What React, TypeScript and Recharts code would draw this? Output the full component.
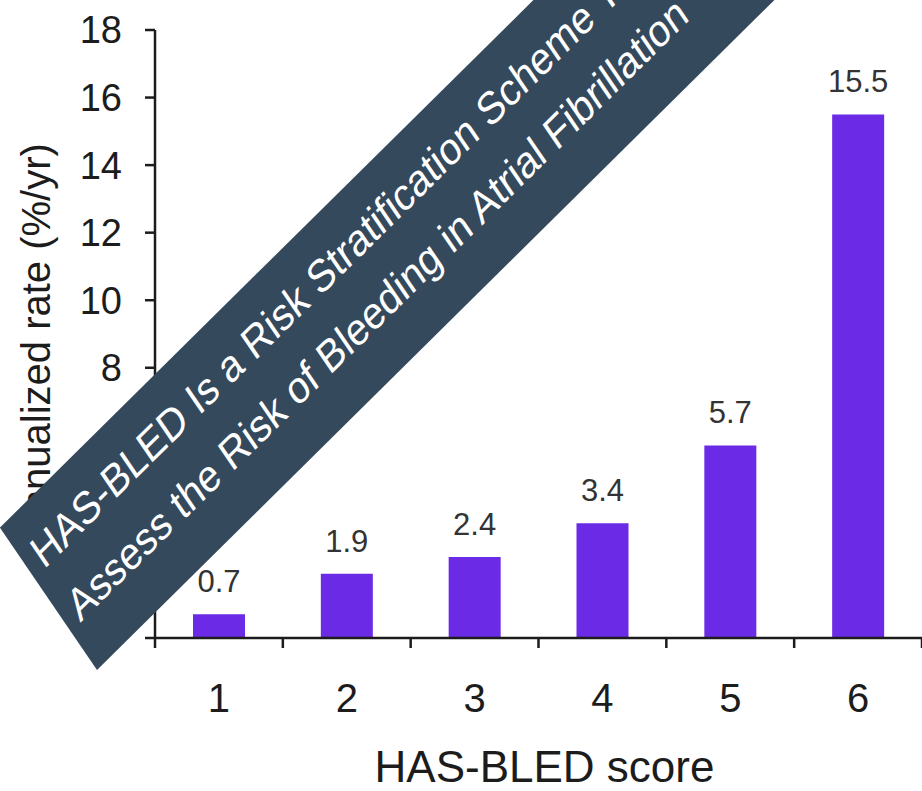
import React from 'react';
import { BarChart, Bar, XAxis, YAxis, LabelList } from 'recharts';

// HAS-BLED score vs annualized major bleeding rate
const scores = ['1', '2', '3', '4', '5', '6'];
const bleedRates = [0.7, 1.9, 2.4, 3.4, 5.7, 15.5];
const rateTicks = [0, 2, 4, 6, 8, 10, 12, 14, 16, 18];

const bannerLines = [
  'HAS-BLED Is a Risk Stratification Scheme That Can',
  'Assess the Risk of Bleeding in Atrial Fibrillation',
];

const data = scores.map((score, i) => ({ score, rate: bleedRates[i] }));

const WIDTH = 922;
const HEIGHT = 791;
const Y_AXIS_W = 155;
const X_AXIS_H = 153;
const TOP = 30;
const FONT = '"Liberation Sans", Arial, Helvetica, sans-serif';
const INK = '#1c1c1c';
const BAR_COLOR = '#6b2be6';
const X_TICK_SIZE = 10;
const X_TICK_MARGIN = 36;

// category labels sit under the bars, tick marks sit on the band edges
function ScoreTick(props: any) {
  const { x, y, payload, index } = props;
  const plotW = WIDTH - Y_AXIS_W;
  const half = payload && typeof payload.offset === 'number' && payload.offset > 0
    ? payload.offset
    : plotW / scores.length / 2;
  const axisY = y - X_TICK_SIZE - X_TICK_MARGIN;
  return (
    <g>
      <line x1={x - half} x2={x - half} y1={axisY} y2={axisY + X_TICK_SIZE} stroke={INK} strokeWidth={2.5} />
      {index === scores.length - 1 && (
        <line x1={x + half} x2={x + half} y1={axisY} y2={axisY + X_TICK_SIZE} stroke={INK} strokeWidth={2.5} />
      )}
      <text x={x} y={y} dy="0.71em" textAnchor="middle" fill={INK} fontSize={40} fontFamily={FONT}>
        {payload.value}
      </text>
    </g>
  );
}

function YTitle(props: any) {
  const vb = props.viewBox || { x: 0, y: TOP, width: Y_AXIS_W, height: HEIGHT - TOP - X_AXIS_H };
  const x = vb.x + 50;
  const y = vb.y + vb.height / 2 + 7;
  return (
    <text x={x} y={y} transform={`rotate(-90, ${x}, ${y})`} textAnchor="middle" fill={INK} fontSize={40} fontFamily={FONT}>
      Annualized rate (%/yr)
    </text>
  );
}

function XTitle(props: any) {
  const vb = props.viewBox || { x: Y_AXIS_W, y: HEIGHT - X_AXIS_H, width: WIDTH - Y_AXIS_W, height: X_AXIS_H };
  return (
    <text x={vb.x + vb.width / 2 + 6} y={vb.y + 144} textAnchor="middle" fill={INK} fontSize={44} fontFamily={FONT}>
      HAS-BLED score
    </text>
  );
}

// slanted title ribbon laid over the lower-left of the chart
function Banner() {
  const w = 1000;
  const h = 153;
  return (
    <svg
      width={w}
      height={h}
      style={{
        position: 'absolute',
        left: 97,
        top: 670 - h,
        transformOrigin: '0 100%',
        transform: 'scaleY(1.204) rotate(-39.4deg)',
        overflow: 'visible',
      }}
    >
      <rect width={w} height={h} fill="#35495d" />
      <text x={12} y={55} fill="#ffffff" fontSize={38} fontFamily={FONT}>{bannerLines[0]}</text>
      <text x={12} y={112} fill="#ffffff" fontSize={38} fontFamily={FONT}>{bannerLines[1]}</text>
    </svg>
  );
}

export default function App() {
  return (
    <div
      style={{
        position: 'fixed',
        left: 0,
        top: 0,
        width: WIDTH,
        height: HEIGHT,
        overflow: 'hidden',
        background: '#ffffff',
      }}
    >
      <BarChart width={WIDTH} height={HEIGHT} data={data} margin={{ top: TOP, right: 0, bottom: 0, left: 0 }}>
        <XAxis
          dataKey="score"
          height={X_AXIS_H}
          axisLine={{ stroke: INK, strokeWidth: 2.5 }}
          tickLine={false}
          tickSize={X_TICK_SIZE}
          tickMargin={X_TICK_MARGIN}
          tick={<ScoreTick />}
          interval={0}
          label={{ content: (p: any) => <XTitle {...p} /> }}
        />
        <YAxis
          width={Y_AXIS_W}
          domain={[0, 18]}
          ticks={rateTicks}
          interval={0}
          axisLine={{ stroke: INK, strokeWidth: 2.5 }}
          tickLine={{ stroke: INK, strokeWidth: 2.5 }}
          tickSize={10}
          tickMargin={23}
          tick={{ fill: INK, fontSize: 38, fontFamily: FONT }}
          label={{ content: (p: any) => <YTitle {...p} /> }}
        />
        <Bar dataKey="rate" fill={BAR_COLOR} barSize={52} isAnimationActive={false}>
          <LabelList dataKey="rate" position="top" offset={22} fill="#333333" fontSize={31} fontFamily={FONT} />
        </Bar>
      </BarChart>
      <Banner />
    </div>
  );
}
